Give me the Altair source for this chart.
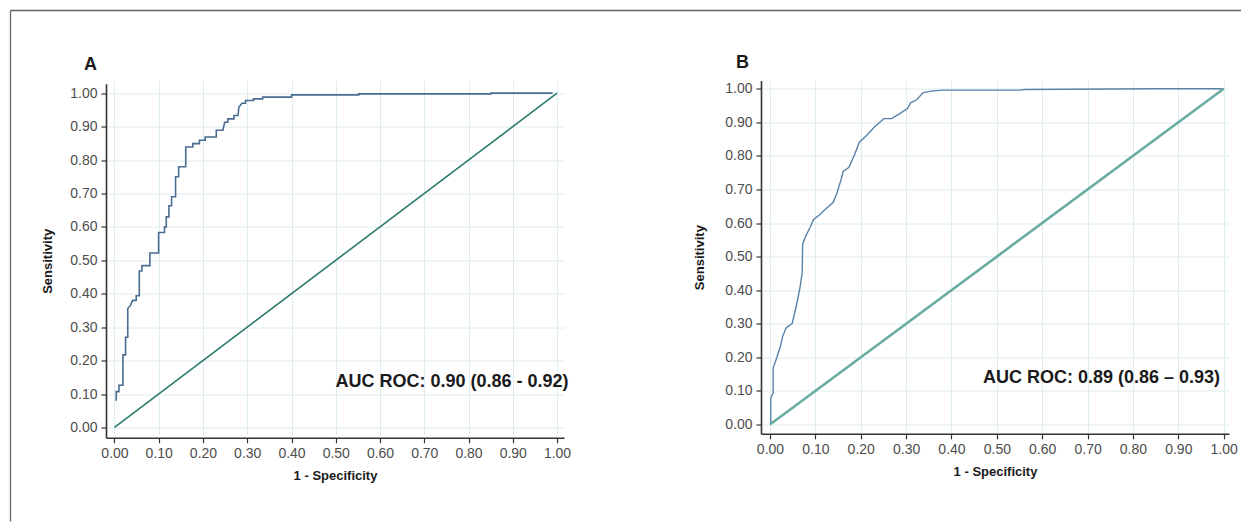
import altair as alt
import pandas as pd

# ---------------- data ----------------
A_FPR = [0.004, 0.004, 0.010, 0.010, 0.019, 0.019, 0.025, 0.025, 0.030, 0.030,
         0.036, 0.041, 0.049, 0.049, 0.056, 0.056, 0.062, 0.062, 0.080, 0.080,
         0.0997, 0.0997, 0.113, 0.113, 0.117, 0.117, 0.123, 0.123, 0.129, 0.129,
         0.138, 0.138, 0.145, 0.145, 0.161, 0.161, 0.177, 0.177, 0.192, 0.192,
         0.205, 0.205, 0.230, 0.230, 0.245, 0.249, 0.256, 0.256, 0.270, 0.270,
         0.279, 0.281, 0.288, 0.296, 0.296, 0.314, 0.314, 0.335, 0.335, 0.400,
         0.400, 0.552, 0.552, 0.851, 0.851, 0.990]
A_TPR = [0.080, 0.107, 0.107, 0.126, 0.126, 0.217, 0.217, 0.270, 0.270, 0.356,
         0.365, 0.380, 0.380, 0.394, 0.394, 0.468, 0.468, 0.484, 0.484, 0.522,
         0.522, 0.583, 0.583, 0.600, 0.600, 0.630, 0.630, 0.663, 0.663, 0.690,
         0.690, 0.750, 0.750, 0.780, 0.780, 0.839, 0.839, 0.849, 0.849, 0.859,
         0.859, 0.869, 0.869, 0.889, 0.889, 0.913, 0.913, 0.923, 0.923, 0.933,
         0.933, 0.958, 0.970, 0.970, 0.978, 0.978, 0.983, 0.983, 0.988, 0.988,
         0.995, 0.995, 0.998, 0.998, 1.000, 1.000]

B_FPR = [0.0017, 0.0017, 0.007, 0.007, 0.015, 0.023, 0.028, 0.036, 0.049, 0.058,
         0.066, 0.071, 0.072, 0.079, 0.088, 0.096, 0.109, 0.122, 0.139, 0.148,
         0.157, 0.161, 0.174, 0.187, 0.197, 0.213, 0.230, 0.251, 0.268, 0.286,
         0.303, 0.310, 0.324, 0.337, 0.355, 0.380, 0.552, 0.561, 0.845, 1.000]
B_TPR = [0.003, 0.079, 0.094, 0.169, 0.199, 0.233, 0.263, 0.288, 0.301, 0.353,
         0.407, 0.452, 0.537, 0.562, 0.586, 0.611, 0.624, 0.641, 0.661, 0.691,
         0.731, 0.753, 0.766, 0.806, 0.841, 0.861, 0.886, 0.911, 0.911, 0.926,
         0.941, 0.958, 0.968, 0.988, 0.993, 0.996, 0.996, 0.998, 1.000, 1.000]

DIAG = [0.0, 1.0]
TICKS = [0.0, 0.1, 0.2, 0.3, 0.4, 0.5, 0.6, 0.7, 0.8, 0.9, 1.0]
X_TITLE = "1 - Specificity"
Y_TITLE = "Sensitivity"
LETTERS = ["A", "B"]
AUC_TEXT = ["AUC ROC: 0.90 (0.86 - 0.92)", "AUC ROC: 0.89 (0.86 \u2013 0.93)"]
AUC_POS = [(1.026, 0.12), (0.992, 0.125)]

FONT = "Liberation Sans"


def panel(fpr, tpr, roc_color, roc_width, diag_color, diag_width, xdom, ydom,
          width, height, yrange, letter, letter_xy, auc, auc_xy, ytitle_pad,
          border=False):
    roc = pd.DataFrame({"x": fpr, "y": tpr, "i": list(range(len(fpr)))})
    diag = pd.DataFrame({"x": DIAG, "y": DIAG, "i": [0, 1]})
    auc_df = pd.DataFrame({"x": [auc_xy[0]], "y": [auc_xy[1]], "t": [auc]})
    one = pd.DataFrame({"t": [letter]})

    yscale = dict(domain=ydom, nice=False, zero=False)
    if yrange is not None:
        yscale["range"] = yrange
    x_axis = alt.Axis(values=TICKS, format=".2f", title=X_TITLE, tickCount=11,
                      titlePadding=9, labelOverlap=False,
                      labelFlush=False, labelBound=False)
    y_axis = alt.Axis(values=TICKS, format=".2f", title=Y_TITLE, tickCount=11,
                      titlePadding=ytitle_pad, labelOverlap=False,
                      labelFlush=False, labelBound=False)
    xs = alt.Scale(domain=xdom, nice=False, zero=False)
    ys = alt.Scale(**yscale)

    def X():
        return alt.X("x:Q", scale=xs, axis=x_axis)

    def Y():
        return alt.Y("y:Q", scale=ys, axis=y_axis)

    roc_line = alt.Chart(roc).mark_line(color=roc_color, strokeWidth=roc_width,
                                        interpolate="linear").encode(
        x=X(), y=Y(), order="i:Q")
    diag_line = alt.Chart(diag).mark_line(color=diag_color,
                                          strokeWidth=diag_width).encode(
        x=X(), y=Y(), order="i:Q")
    auc_txt = alt.Chart(auc_df).mark_text(align="right", baseline="alphabetic",
                                          fontSize=18, fontWeight="bold",
                                          font=FONT, color="#1a1a1a").encode(
        x=X(), y=Y(), text="t:N")
    letter_txt = alt.Chart(one).mark_text(align="left", baseline="alphabetic",
                                          fontSize=18, fontWeight="bold",
                                          font=FONT, color="#1a1a1a").encode(
        x=alt.value(letter_xy[0]), y=alt.value(letter_xy[1]), text="t:N")
    layers = [roc_line, diag_line, auc_txt, letter_txt]
    if border:
        vline = alt.Chart(one).mark_rule(color="#666666", strokeWidth=1.3).encode(
            x=alt.value(-95.5), y=alt.value(-70), y2=alt.value(441))
        hline = alt.Chart(one).mark_rule(color="#666666", strokeWidth=1.3).encode(
            x=alt.value(-95.5), x2=alt.value(1135), y=alt.value(-70))
        layers += [vline, hline]
    return alt.layer(*layers).properties(width=width, height=height)


pa = panel(A_FPR, A_TPR, "#4a6c90", 1.6, "#2b7a6b", 1.6,
           [-0.0192, 1.0158], [-0.031, 1.028], 458, 357.3, [357.3, 3.3],
           LETTERS[0], (-22, -10.7), AUC_TEXT[0], AUC_POS[0], 15, border=True)
pb = panel(B_FPR, B_TPR, "#5a82a8", 1.4, "#6aaca2", 2.6,
           [-0.0198, 1.0117], [-0.0277, 1.0247], 468, 353.3, None,
           LETTERS[1], (-25, -12.3), AUC_TEXT[1], AUC_POS[1], 18)

chart = alt.hconcat(pa, pb, spacing=197, bounds="flush").properties(
    padding={"left": 1, "top": 1.5, "right": 0, "bottom": 0},
    background="white",
).configure(font=FONT).configure_view(strokeWidth=0).configure_axis(
    domainColor="#333333", domainWidth=1.6,
    tickColor="#333333", tickWidth=1.2, tickSize=5,
    labelColor="#4d4d4d", labelFontSize=14, labelFont=FONT, labelPadding=4,
    titleColor="#1a1a1a", titleFontSize=13, titleFont=FONT, titleFontWeight="bold",
    gridColor="#dcecef", gridWidth=1,
).configure_axisY(labelOverlap=False)

chart.save("out.html", embed_options={"renderer": "svg", "actions": False})
